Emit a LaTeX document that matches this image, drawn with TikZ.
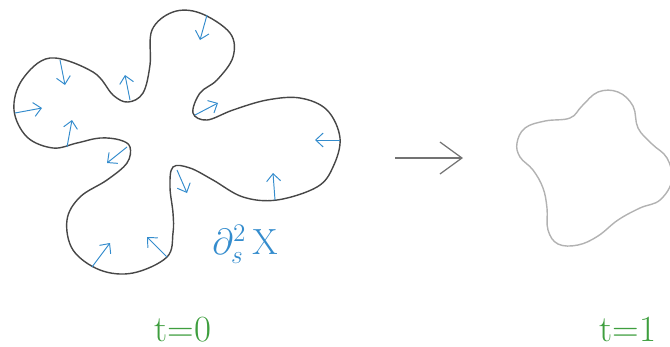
\documentclass[tikz,border=0pt]{standalone}
\usepackage{amsmath}
\usepackage{xcolor}
\usetikzlibrary{arrows.meta}

\definecolor{flowblue}{RGB}{52,140,205}
\definecolor{timegreen}{RGB}{62,158,62}

\begin{document}
\begin{tikzpicture}[
  x=0.02cm, y=-0.02cm,
  curve/.style={draw=black!72, line width=0.8pt},
  relaxed/.style={draw=black!30, line width=0.8pt},
  flow/.style={-{Straight Barb[length=1.5mm, width=2.8mm]}, flowblue, line width=0.55pt},
  evolve/.style={-{Straight Barb[length=4.4mm, width=6.4mm]}, black!55, line width=0.7pt},
  timelbl/.style={text=timegreen, inner sep=0pt, anchor=base, font=\fontsize{21}{25}\selectfont}
]
\useasboundingbox (0,0) rectangle (670,346);

% initial curve
\draw[curve] plot[smooth cycle, tension=0.6] coordinates {
  (14,110) (22,80) (50,58) (93,72) (113,95) (128,102) (143,93) (150,65)
  (152,30) (173,12) (200,13) (230,33) (233,57) (217,80) (200,93) (193,113)
  (207,120) (233,110) (267,100) (300,98) (327,110) (340,138) (333,167)
  (317,187) (277,200) (243,197) (213,180) (190,168) (173,167) (170,187)
  (173,213) (173,233) (167,257) (133,273) (100,270) (73,250) (67,220)
  (80,197) (107,180) (127,163) (130,147) (120,140) (100,138) (77,143)
  (53,148) (27,137)};

% curvature flow
\foreach \xa/\ya/\xb/\yb in {207/15/200/40, 60/60/65/85, 130/100/125/75,
  15/113/42/108, 67/147/72/120, 127/147/107/163, 195/115/218/103,
  340/140/315/140, 275/200/273/173, 177/170/187/193, 92/267/110/243,
  167/257/147/237}
  \draw[flow] (\xa,\ya) -- (\xb,\yb);

\node[text=flowblue, inner sep=1pt, font=\fontsize{22}{26}\selectfont] (kappa) at (245,244) {$\partial^{2}_{s}\,\mathrm{X}$};

% evolution
\coordinate (evS) at (395,158);
\coordinate (evE) at (463,158);
\draw[evolve] (evS) -- (evE);

% curve at t=1
\draw[relaxed] plot[smooth cycle, tension=0.65] coordinates {
  (517,143) (525,128) (545,121) (570,118) (582,106) (598,92)
  (618,92) (633,106) (638,128) (652,144) (667,158) (672,180) (660,200)
  (640,208) (618,220) (598,236) (578,245) (558,244) (548,230) (547,208)
  (543,188) (533,170) (520,157)};

\node[timelbl] (t0) at (183,341) {t=0};
\node[timelbl] (t1) at (628,341) {t=1};
\end{tikzpicture}
\end{document}
